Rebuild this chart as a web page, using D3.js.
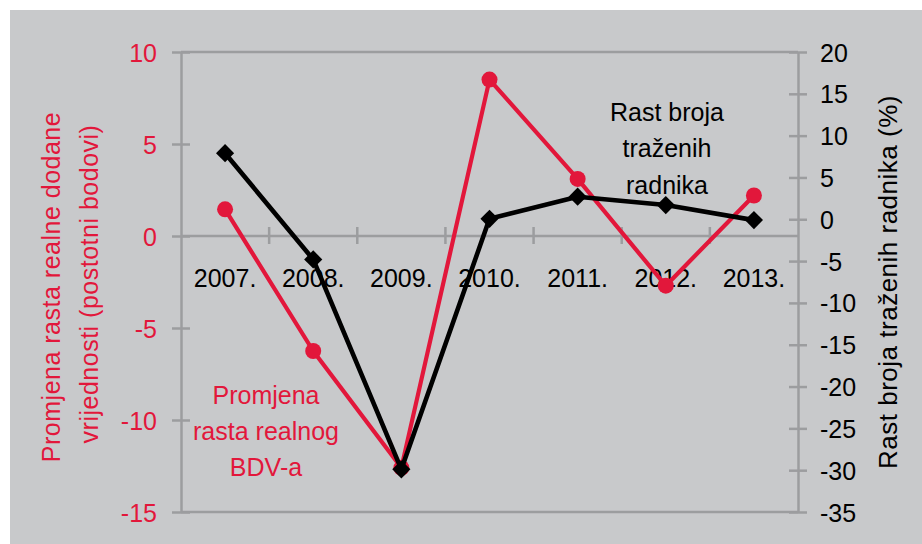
<!DOCTYPE html>
<html>
<head>
<meta charset="utf-8">
<script src="https://cdn.jsdelivr.net/npm/d3@7"></script>
<style>
  html, body { margin: 0; padding: 0; background: #ffffff; }
  svg { display: block; font-family: "Liberation Sans", Arial, sans-serif; }
</style>
</head>
<body>
<svg id="chart" width="922" height="544"></svg>
<script>
// ---- data ----
const categories = ["2007.", "2008.", "2009.", "2010.", "2011.", "2012.", "2013."];
const bdvChange = [1.45, -6.25, -12.6, 8.5, 3.1, -2.7, 2.2];      // left axis (postotni bodovi)
const workersGrowth = [7.9, -4.8, -29.9, 0.05, 2.7, 1.7, -0.1];   // right axis (%)
const leftTicks = [10, 5, 0, -5, -10, -15];
const rightTicks = [20, 15, 10, 5, 0, -5, -10, -15, -20, -25, -30, -35];
const leftTitle = ["Promjena rasta realne dodane", "vrijednosti (postotni bodovi)"];
const rightTitle = "Rast broja traženih radnika (%)";
const redLabel = ["Promjena", "rasta realnog", "BDV-a"];
const blackLabel = ["Rast broja", "traženih", "radnika"];

// ---- styles ----
const RED = "#e2173b";
const BLACK = "#000000";
const AXIS = "#9c9d9f";
const BG = "#c8c9cb";
const FS = 25;

const svg = d3.select("#chart");
svg.append("rect").attr("x", 10).attr("y", 10).attr("width", 912).attr("height", 534).attr("fill", BG);

const pL = 181, pR = 798, pT = 52, pB = 512;
const x = d3.scaleBand().domain(categories).range([pL, pR]).padding(0);
const yL = d3.scaleLinear().domain([-15, 10]).range([pB, pT]);
const yR = d3.scaleLinear().domain([-35, 20]).range([pB, pT]);

// plot frame top & bottom
svg.append("line").attr("x1", pL).attr("x2", pR).attr("y1", pT).attr("y2", pT)
  .attr("stroke", AXIS).attr("stroke-width", 2.5);
svg.append("line").attr("x1", pL).attr("x2", pR).attr("y1", pB).attr("y2", pB)
  .attr("stroke", AXIS).attr("stroke-width", 2.5);

// left axis
const gL = svg.append("g").attr("transform", `translate(${pL},0)`)
  .call(d3.axisLeft(yL).tickValues(leftTicks).tickSizeOuter(0).tickSizeInner(9).tickFormat(d => String(d)));
gL.select(".domain").attr("stroke", AXIS).attr("stroke-width", 2.5);
gL.selectAll(".tick line").attr("x1", -9).attr("x2", 9).attr("stroke", AXIS).attr("stroke-width", 2.5);
gL.selectAll(".tick text").attr("x", -24).attr("dy", "0.36em")
  .attr("fill", RED).style("font-size", FS + "px").style("font-family", "'Liberation Sans', Arial, sans-serif");

// right axis
const gR = svg.append("g").attr("transform", `translate(${pR},0)`)
  .call(d3.axisRight(yR).tickValues(rightTicks).tickSizeOuter(0).tickSizeInner(9).tickFormat(d => String(d)));
gR.select(".domain").attr("stroke", AXIS).attr("stroke-width", 2.5);
gR.selectAll(".tick line").attr("x1", -9).attr("x2", 9).attr("stroke", AXIS).attr("stroke-width", 2.5);
gR.selectAll(".tick text").attr("x", 22).attr("dy", "0.36em")
  .attr("fill", BLACK).style("font-size", FS + "px").style("font-family", "'Liberation Sans', Arial, sans-serif");

// category axis at zero
const y0 = yL(0);
svg.append("line").attr("x1", pL).attr("x2", pR).attr("y1", y0).attr("y2", y0)
  .attr("stroke", AXIS).attr("stroke-width", 2.5);
svg.selectAll(".ctick").data(categories.slice(1)).join("line")
  .attr("x1", d => x(d)).attr("x2", d => x(d))
  .attr("y1", y0 - 9).attr("y2", y0 + 8)
  .attr("stroke", AXIS).attr("stroke-width", 2.5);
svg.selectAll(".clabel").data(categories).join("text")
  .attr("x", d => x(d) + x.bandwidth() / 2).attr("y", 287)
  .attr("text-anchor", "middle").attr("fill", BLACK).style("font-size", FS + "px")
  .text(d => d);

// axis titles
svg.append("text").attr("transform", "translate(60,287) rotate(-90)")
  .attr("text-anchor", "middle").attr("fill", RED).style("font-size", "25px").style("letter-spacing", "0.5px")
  .text(leftTitle[0]);
svg.append("text").attr("transform", "translate(98,284) rotate(-90)")
  .attr("text-anchor", "middle").attr("fill", RED).style("font-size", "25px").style("letter-spacing", "0.5px")
  .text(leftTitle[1]);
svg.append("text").attr("transform", "translate(897,282) rotate(-90)")
  .attr("text-anchor", "middle").attr("fill", BLACK).style("font-size", "26px").style("letter-spacing", "0.5px")
  .text(rightTitle);

// in-chart labels
svg.selectAll(".rl").data(redLabel).join("text")
  .attr("x", 266).attr("y", (d, i) => 404 + i * 36)
  .attr("text-anchor", "middle").attr("fill", RED).style("font-size", FS + "px").text(d => d);
svg.selectAll(".bl").data(blackLabel).join("text")
  .attr("x", 667).attr("y", (d, i) => 121 + i * 36.3)
  .attr("text-anchor", "middle").attr("fill", BLACK).style("font-size", FS + "px").text(d => d);

// series
const cx = (d, i) => x(categories[i]) + x.bandwidth() / 2;
const redLine = d3.line().x(cx).y(d => yL(d));
svg.append("path").datum(bdvChange).attr("d", redLine)
  .attr("fill", "none").attr("stroke", RED).attr("stroke-width", 4.2).attr("stroke-linejoin", "round");
svg.selectAll(".rdot").data(bdvChange).join("circle")
  .attr("cx", cx).attr("cy", d => yL(d)).attr("r", 8).attr("fill", RED);

const blackLine = d3.line().x(cx).y(d => yR(d));
svg.append("path").datum(workersGrowth).attr("d", blackLine)
  .attr("fill", "none").attr("stroke", BLACK).attr("stroke-width", 4.6).attr("stroke-linejoin", "round");
const diamond = d3.symbol().type(d3.symbolSquare).size(165);
svg.selectAll(".bdot").data(workersGrowth).join("path")
  .attr("d", diamond)
  .attr("transform", (d, i) => `translate(${cx(d, i)},${yR(d)}) rotate(45)`)
  .attr("fill", BLACK);
</script>
</body>
</html>
